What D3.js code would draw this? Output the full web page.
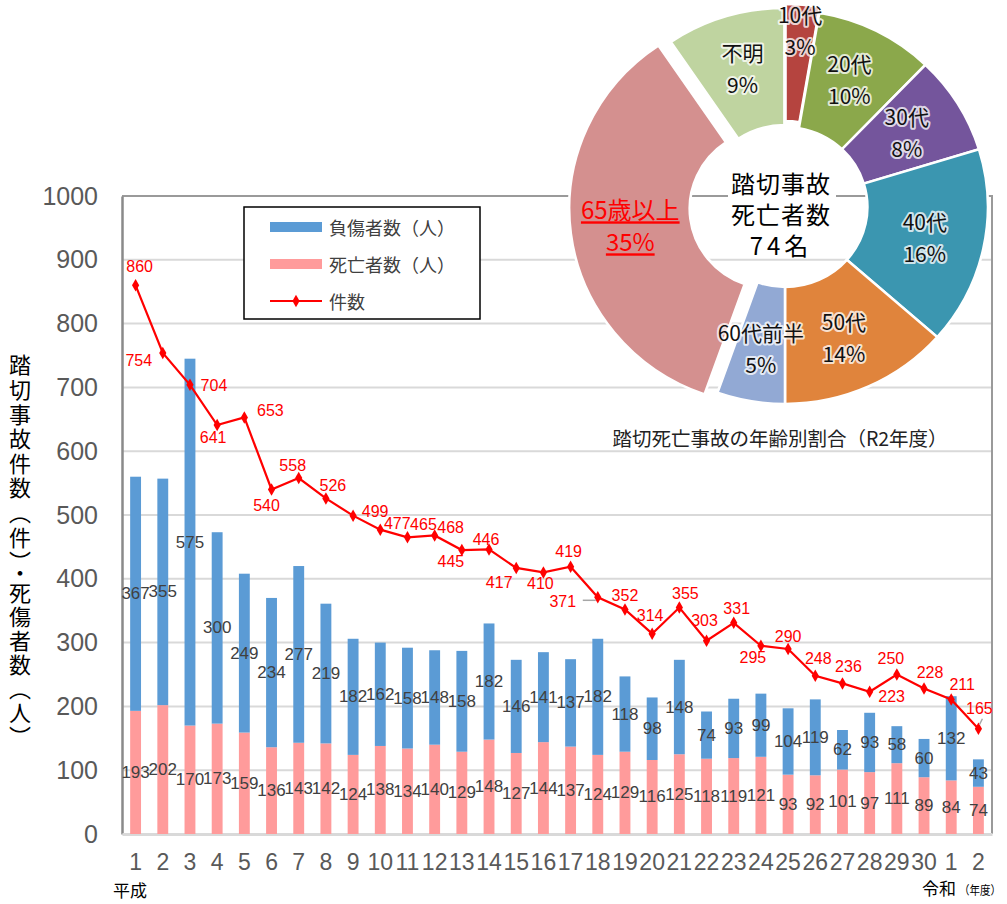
<!DOCTYPE html>
<html>
<head>
<meta charset="utf-8">
<script src="https://cdn.jsdelivr.net/npm/d3@7"></script>
<style>
  body { margin: 0; background: #fff; }
  svg { display: block; }
</style>
</head>
<body>
<div id="chart"></div>
<script>
// 年度ラベル（平成1〜30、令和1〜2）
const yearLabels = ["1","2","3","4","5","6","7","8","9","10","11","12","13","14","15","16",
  "17","18","19","20","21","22","23","24","25","26","27","28","29","30","1","2"];
// 死亡者数（人）
const deaths = [193,202,170,173,159,136,143,142,124,138,134,140,129,148,127,144,
  137,124,129,116,125,118,119,121,93,92,101,97,111,89,84,74];
// 負傷者数（人）
const injured = [367,355,575,300,249,234,277,219,182,162,158,148,158,182,146,141,
  137,182,118,98,148,74,93,99,104,119,62,93,58,60,132,43];
// 件数
const accidents = [860,754,704,641,653,540,558,526,499,477,465,468,445,446,417,410,
  419,371,352,314,355,303,331,295,290,248,236,223,250,228,211,165];
const yTicks = [0,100,200,300,400,500,600,700,800,900,1000];

// 年齢別（R2年度 死亡者 74名）
const ageGroups = ["10代","20代","30代","40代","50代","60代前半","65歳以上","不明"];
const ageDeaths = [2,7,6,12,10,4,26,7];          // slice sizes (estimated counts)
const agePct = ["3%","10%","8%","16%","14%","5%","35%","9%"];  // labels as printed
const ageColors = ["#B5443F","#8BA84B","#74559C","#3B96B0","#E0843C","#92A9D4","#D4908F","#BFD4A0"];

// label offsets for the 件数 line (layout only)
const lineLabelOffset = [[4,-19],[-24,8],[24,1],[-4,12],[26,-7],[-5,16],[-6,-12],[7,-13],
  [22,-4],[17,-6],[16,-13],[16,-8],[-11,11],[-3,-10],[-17,15],[-3,11],
  [-2,-15],[-35,4],[0,-14],[-2,-18],[6,-14],[-2,-20],[3,-14],[-8,12],
  [0,-12],[3,-17],[6,-17],[22,5],[-6,-16],[6,-16],[11,-15],[1,-20]];

const width = 1007, height = 904;
const margin = { top: 196, right: 15, bottom: 70, left: 122 };
const numFont = "'Liberation Sans', Arial, sans-serif";
const jpFont = "'Noto Sans CJK JP', 'Noto Sans', sans-serif";

const svg = d3.select("#chart").append("svg")
  .attr("width", width)
  .attr("height", height);

const x = d3.scaleBand()
  .domain(d3.range(yearLabels.length))
  .range([margin.left, width - margin.right])
  .paddingInner(0.6)
  .paddingOuter(0.3);

const y = d3.scaleLinear()
  .domain([0, 1000])
  .range([height - margin.bottom, margin.top]);

const bw = x.bandwidth();

// gridlines
svg.append("g")
  .selectAll("line")
  .data(yTicks.slice(1, -1))
  .join("line")
  .attr("x1", margin.left).attr("x2", width - margin.right)
  .attr("y1", d => y(d)).attr("y2", d => y(d))
  .attr("stroke", "#D9D9D9")
  .attr("stroke-width", 2);

// plot frame
svg.append("path")
  .attr("d", `M${margin.left},${y(1000)}H${width - margin.right}V${y(0)}`)
  .attr("fill", "none")
  .attr("stroke", "#9A9A9A")
  .attr("stroke-width", 2);

// y axis
const yAxis = svg.append("g")
  .attr("transform", `translate(${margin.left},0)`)
  .call(d3.axisLeft(y).tickValues(yTicks).tickFormat(d3.format("d")).tickSize(0).tickPadding(24));
yAxis.select(".domain").attr("stroke", "#8A8A8A").attr("stroke-width", 2.5);
yAxis.selectAll("text")
  .attr("font-family", numFont)
  .attr("font-size", 25)
  .attr("fill", "#595959");

// x axis
const xAxis = svg.append("g")
  .attr("transform", `translate(0,${y(0)})`)
  .call(d3.axisBottom(x).tickFormat(i => yearLabels[i]).tickSize(0).tickPadding(20));
xAxis.select(".domain").attr("stroke", "#D9D9D9").attr("stroke-width", 3);
xAxis.selectAll("text")
  .attr("font-family", numFont)
  .attr("font-size", 23)
  .attr("fill", "#595959");

// stacked bars
const rows = yearLabels.map((d, i) => ({ i, deaths: deaths[i], injured: injured[i] }));
const series = d3.stack().keys(["deaths", "injured"])(rows);
const barColor = { deaths: "#FF9B9B", injured: "#5B9BD5" };

svg.append("g")
  .selectAll("g")
  .data(series)
  .join("g")
  .attr("fill", d => barColor[d.key])
  .selectAll("rect")
  .data(d => d)
  .join("rect")
  .attr("x", d => x(d.data.i))
  .attr("y", d => y(d[1]))
  .attr("width", bw)
  .attr("height", d => y(d[0]) - y(d[1]));

// bar labels
svg.append("g")
  .selectAll("g")
  .data(series)
  .join("g")
  .selectAll("text")
  .data(d => d.map(s => ({ s, v: s.data[d.key] })))
  .join("text")
  .attr("x", d => x(d.s.data.i) + bw / 2)
  .attr("y", d => y((d.s[0] + d.s[1]) / 2))
  .attr("text-anchor", "middle")
  .attr("dominant-baseline", "central")
  .attr("font-family", numFont)
  .attr("font-size", 17)
  .attr("fill", "#404040")
  .text(d => d.v);

// 件数 line
const line = d3.line()
  .x((d, i) => x(i) + bw / 2)
  .y(d => y(d));

svg.append("path")
  .datum(accidents)
  .attr("d", line)
  .attr("fill", "none")
  .attr("stroke", "#FF0000")
  .attr("stroke-width", 2.2);

svg.append("g")
  .selectAll("path")
  .data(accidents)
  .join("path")
  .attr("transform", (d, i) => `translate(${x(i) + bw / 2},${y(d)})`)
  .attr("d", d3.symbol(d3.symbolDiamond, 45))
  .attr("fill", "#FF0000");

// leader lines for 371 and 165
[17, 31].forEach(i => {
  const px = x(i) + bw / 2, py = y(accidents[i]);
  const [dx, dy] = lineLabelOffset[i];
  svg.append("line")
    .attr("x1", i === 17 ? px + dx + 20 : px + dx + 3)
    .attr("y1", i === 17 ? py + 3 : py + dy + 10)
    .attr("x2", i === 17 ? px - 2 : px + 1)
    .attr("y2", i === 17 ? py + 3 : py - 4)
    .attr("stroke", "#A6A6A6")
    .attr("stroke-width", 1.5);
});

svg.append("g")
  .selectAll("text")
  .data(accidents)
  .join("text")
  .attr("x", (d, i) => x(i) + bw / 2 + lineLabelOffset[i][0])
  .attr("y", (d, i) => y(d) + lineLabelOffset[i][1])
  .attr("text-anchor", "middle")
  .attr("dominant-baseline", "central")
  .attr("font-family", numFont)
  .attr("font-size", 16)
  .attr("fill", "#FF0000")
  .text(d => d);

// y title (vertical, one glyph per slot)
const yTitleChars = "踏切事故件数（件）・死傷者数（人）".split("");
svg.append("g")
  .selectAll("text")
  .data(yTitleChars)
  .join("text")
  .attr("x", 20)
  .attr("y", (d, k) => k < 9 ? 365 + k * 24.6 : k === 9 ? 573 : 593 + (k - 10) * 24)
  .attr("text-anchor", "middle")
  .attr("font-family", jpFont)
  .attr("font-size", 22)
  .attr("fill", "#000")
  .style("writing-mode", "vertical-rl")
  .text(d => d);

// era labels
svg.append("text").attr("x", 130).attr("y", 897).attr("text-anchor", "middle")
  .attr("font-family", jpFont).attr("font-size", 17).attr("fill", "#000").text("平成");
svg.append("text").attr("x", 939).attr("y", 895).attr("text-anchor", "middle")
  .attr("font-family", jpFont).attr("font-size", 17).attr("fill", "#000").text("令和");
svg.append("text").attr("x", 959).attr("y", 895)
  .attr("font-family", jpFont).attr("font-size", 12)
  .attr("textLength", 42).attr("lengthAdjust", "spacingAndGlyphs")
  .attr("fill", "#000").text("（年度）");

// legend
const legend = svg.append("g").attr("transform", "translate(244,207)");
legend.append("rect")
  .attr("width", 236).attr("height", 112)
  .attr("fill", "#fff").attr("stroke", "#000").attr("stroke-width", 1.5);
const legendItems = [
  { label: "負傷者数（人）", type: "bar", color: barColor.injured },
  { label: "死亡者数（人）", type: "bar", color: barColor.deaths },
  { label: "件数", type: "line", color: "#FF0000" }
];
const li = legend.selectAll("g")
  .data(legendItems)
  .join("g")
  .attr("transform", (d, i) => `translate(0,${20 + i * 37})`);
li.filter(d => d.type === "bar").append("rect")
  .attr("x", 26).attr("y", -5).attr("width", 52).attr("height", 10)
  .attr("fill", d => d.color);
li.filter(d => d.type === "line").append("line")
  .attr("x1", 26).attr("x2", 78).attr("stroke", d => d.color).attr("stroke-width", 2.2);
li.filter(d => d.type === "line").append("path")
  .attr("transform", "translate(52,0)")
  .attr("d", d3.symbol(d3.symbolDiamond, 45))
  .attr("fill", d => d.color);
li.append("text")
  .attr("x", 85)
  .attr("dominant-baseline", "central")
  .attr("font-family", jpFont)
  .attr("font-size", 18)
  .attr("fill", "#404040")
  .text(d => d.label);

// donut chart
const pieCx = 785, pieCy = 207;
const pie = d3.pie().sort(null).value(d => d)(ageDeaths);
const arc = d3.arc().innerRadius(80).outerRadius(197);
const explode = [6, 0, 0, 0, 0, 0, 13, 2];

const pieG = svg.append("g").attr("transform", `translate(${pieCx},${pieCy})`);
pieG.selectAll("path")
  .data(pie)
  .join("path")
  .attr("transform", (d, i) => {
    const a = (d.startAngle + d.endAngle) / 2;
    return `translate(${Math.sin(a) * explode[i]},${-Math.cos(a) * explode[i]}) scale(1.03,1)`;
  })
  .attr("d", arc)
  .attr("fill", (d, i) => ageColors[i])
  .attr("stroke", "#fff")
  .attr("stroke-width", 2.5);

// center text with white box
pieG.append("rect")
  .attr("x", -57).attr("y", -41).attr("width", 108).attr("height", 88)
  .attr("fill", "#fff");
pieG.selectAll("text.center")
  .data(["踏切事故", "死亡者数", "74名"])
  .join("text")
  .attr("class", "center")
  .attr("x", -4)
  .attr("y", (d, i) => -25 + i * 31)
  .attr("text-anchor", "middle")
  .attr("dominant-baseline", "central")
  .attr("font-family", jpFont)
  .attr("font-size", 24)
  .style("letter-spacing", (d, i) => i === 2 ? "4px" : "1px")
  .attr("fill", "#000")
  .text(d => d);

// slice labels
const labelArc = d3.arc().innerRadius(143).outerRadius(143);
const labelArcTop = d3.arc().innerRadius(172).outerRadius(172);
const sliceLabels = pieG.selectAll("g.lbl")
  .data(pie)
  .join("g")
  .attr("class", "lbl")
  .attr("transform", (d, i) => {
    const c = (i === 0 ? labelArcTop : labelArc).centroid(d);
    const a = (d.startAngle + d.endAngle) / 2;
    return `translate(${c[0] + Math.sin(a) * explode[i]},${c[1] - Math.cos(a) * explode[i]})`;
  });
sliceLabels.each(function(d, i) {
  const g = d3.select(this);
  const big = ageGroups[i] === "65歳以上";
  [ageGroups[i], agePct[i]].forEach((t, k) => {
    g.append("text")
      .attr("y", big ? (k === 0 ? -18 : 14) : (k === 0 ? -16 : 16))
      .attr("text-anchor", "middle")
      .attr("dominant-baseline", "central")
      .attr("font-family", jpFont)
      .attr("font-size", big ? 24 : 21)
      .attr("fill", big ? "#FF0000" : "#111")
      .attr("stroke", big ? "none" : "rgba(255,255,255,0.75)")
      .attr("stroke-width", 4)
      .attr("stroke-linejoin", "round")
      .attr("paint-order", "stroke")
      .attr("text-decoration", big ? "underline" : null)
      .text(t);
  });
});

// pie caption
svg.append("text")
  .attr("x", 780)
  .attr("y", 437)
  .attr("text-anchor", "middle")
  .attr("dominant-baseline", "central")
  .attr("font-family", jpFont)
  .attr("font-size", 19.5)
  .attr("fill", "#222")
  .text("踏切死亡事故の年齢別割合（R2年度）");
</script>
</body>
</html>
